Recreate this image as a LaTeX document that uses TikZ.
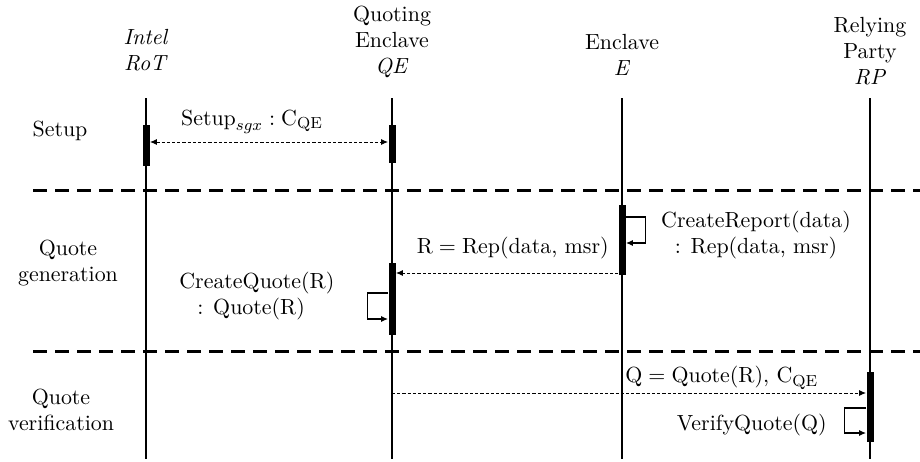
\documentclass[tikz,border=0pt]{standalone}
\usetikzlibrary{arrows.meta}
\begin{document}
\begin{tikzpicture}[x=0.5pt,y=-0.5pt,
  every node/.style={font=\fontsize{10.95}{13}\selectfont, inner sep=0pt},
  lifeline/.style={line width=0.9pt},
  actbar/.style={fill=black, draw=none, minimum width=3.5pt, inner sep=0pt},
  separator/.style={line width=1.5pt, dash pattern=on 7pt off 4pt},
  msg/.style={line width=0.5pt, dash pattern=on 1.6pt off 1pt, -{Latex[length=3.5pt,width=3pt]}},
  msgboth/.style={line width=0.5pt, dash pattern=on 1.6pt off 1pt, {Latex[length=3.5pt,width=3pt]}-{Latex[length=3.5pt,width=3pt]}},
  selfmsg/.style={line width=0.6pt, -{Latex[length=3.5pt,width=3pt]}},
  header/.style={align=center},
  phase/.style={align=center}]
\useasboundingbox (0,0) rectangle (920,461);

% headers
\node[header] (hI) at (146,50) {\textit{Intel}\\\textit{RoT}};
\node[header] (hQ) at (392,41.5) {Quoting\\Enclave\\\textit{QE}};
\node[header] (hE) at (622,55) {Enclave\\\textit{E}};
\node[header] (hR) at (870,51) {Relying\\Party\\\textit{RP}};

% lifelines
\coordinate (Itop) at (146,98); \coordinate (Ibot) at (146,459);
\coordinate (Qtop) at (392,98); \coordinate (Qbot) at (392,459);
\coordinate (Etop) at (622,98); \coordinate (Ebot) at (622,459);
\coordinate (Rtop) at (870,98); \coordinate (Rbot) at (870,459);
\draw[lifeline] (Itop) -- (Ibot);
\draw[lifeline] (Qtop) -- (Qbot);
\draw[lifeline] (Etop) -- (Ebot);
\draw[lifeline] (Rtop) -- (Rbot);

% separators
\coordinate (s1a) at (33,190); \coordinate (s1b) at (920,190);
\coordinate (s2a) at (33,351); \coordinate (s2b) at (920,351);
\draw[separator] (s1a) -- (s1b);
\draw[separator] (s2a) -- (s2b);

% phase labels
\node[phase] (pS) at (60,131) {Setup};
\node[phase] (pG) at (68,263.5) {Quote\\generation};
\node[phase] (pV) at (61,410) {Quote\\verification};

% activation bars
\node[actbar, minimum height=20.5pt] (bI) at (146,145.5) {};
\node[actbar, minimum height=19pt] (bQ1) at (392,144) {};
\node[actbar, minimum height=35pt] (bE) at (622,240) {};
\node[actbar, minimum height=36pt] (bQ2) at (392,299) {};
\node[actbar, minimum height=35pt] (bR) at (870,407) {};

% setup
\coordinate (y1) at (0,142);
\draw[msgboth] (bI.east |- y1) -- (bQ1.west |- y1);
\node (lSetup) at (252,122) {$\mathrm{Setup}_{sgx}:\mathrm{C}_{\mathrm{QE}}$};

% create report
\coordinate (e1) at (0,217); \coordinate (e2) at (0,243);
\draw[selfmsg] (bE.east |- e1) -- ++(19.5,0) |- (bE.east |- e2);
\node[align=center] (lCR) at (756,235) {CreateReport(data)\\: Rep(data, msr)};

% report to QE
\coordinate (r1) at (0,273);
\draw[msg] (bE.west |- r1) -- (bQ2.east |- r1);
\node[anchor=east] (lR) at (609,248) {$\mathrm{R}=\mathrm{Rep}$(data, msr)};

% create quote
\coordinate (q1) at (0,293); \coordinate (q2) at (0,319);
\draw[selfmsg] (bQ2.west |- q1) -- ++(-21,0) |- (bQ2.west |- q2);
\node[align=left, anchor=west] (lCQ) at (179,296) {CreateQuote(R)\\\hspace*{9pt}: Quote(R)};

% quote to RP
\coordinate (qq) at (0,393);
\draw[msg] (bQ2 |- qq) -- (bR.west |- qq);
\node[anchor=west] (lQ) at (625,378) {$\mathrm{Q}=\mathrm{Quote(R)}$, $\mathrm{C}_{\mathrm{QE}}$};

% verify quote
\coordinate (v1) at (0,408); \coordinate (v2) at (0,433);
\draw[selfmsg] (bR.west |- v1) -- ++(-21.5,0) |- (bR.west |- v2);
\node[anchor=east] (lV) at (827,425) {VerifyQuote(Q)};
\end{tikzpicture}
\end{document}
